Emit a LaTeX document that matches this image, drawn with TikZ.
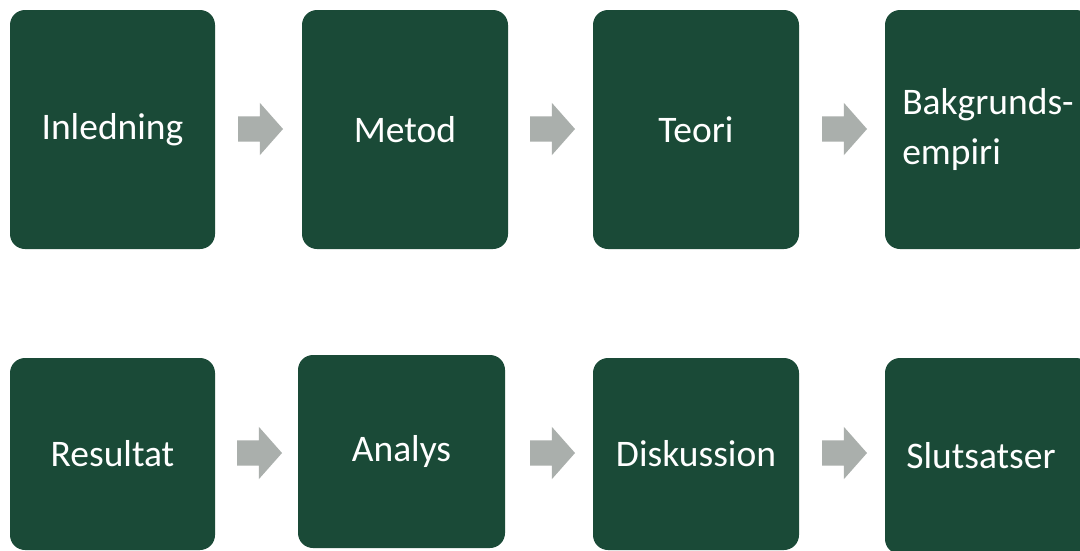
\documentclass[tikz,border=0pt]{standalone}
\usepackage{fontspec}
\setmainfont{Carlito}
\usetikzlibrary{shapes.arrows}
\definecolor{boxgreen}{HTML}{1A4A37}
\definecolor{arrowgray}{HTML}{AAAFAC}
\tikzset{
  stepbox/.style={rectangle, fill=boxgreen, rounded corners=15pt, text=white,
    font=\fontsize{37.5}{50}\selectfont, inner sep=0pt, outer sep=0pt},
  flowarrow/.style={single arrow, fill=arrowgray, draw=none, inner sep=12.5pt,
    single arrow head extend=13.5pt, minimum height=45pt, single arrow tip angle=97,
    outer sep=0pt, anchor=tail}
}
\begin{document}
\begin{tikzpicture}[x=1pt,y=-1pt]
\useasboundingbox (0,0) rectangle (1080,550);
\clip (0,0) rectangle (1080,550);
\fill[white] (0,0) rectangle (1080,550);
% top row
\node[stepbox, minimum width=205pt, minimum height=239pt] (inl) at (112.5,129.5) {Inledning};
\node[stepbox, minimum width=206pt, minimum height=239pt] (met) at (405,129.5) {Metod};
\node[stepbox, minimum width=206pt, minimum height=239pt] (teo) at (696,129.5) {Teori};
\node[stepbox, minimum width=206pt, minimum height=239pt] (bak) at (988,129.5)
  {\raisebox{-1.5pt}{\begin{tabular}{@{}l@{}}Bakgrunds-\\empiri\end{tabular}}};
% bottom row
\node[stepbox, minimum width=205pt, minimum height=192pt] (res) at (112.5,454) {Resultat};
\node[stepbox, minimum width=207pt, minimum height=193pt] (ana) at (401.5,451.5) {Analys};
\node[stepbox, minimum width=206pt, minimum height=192pt] (dis) at (696,454) {Diskussion};
\node[stepbox, minimum width=206pt, minimum height=196pt] (slu) at (988,456) {Slutsatser\hspace*{14pt}};
% arrows
\node[flowarrow] (a1) at (238,129) {};
\node[flowarrow] (a2) at (530,129) {};
\node[flowarrow] (a3) at (822,129) {};
\node[flowarrow] (a4) at (237,453) {};
\node[flowarrow] (a5) at (530,453) {};
\node[flowarrow] (a6) at (822,453) {};
\end{tikzpicture}
\end{document}
